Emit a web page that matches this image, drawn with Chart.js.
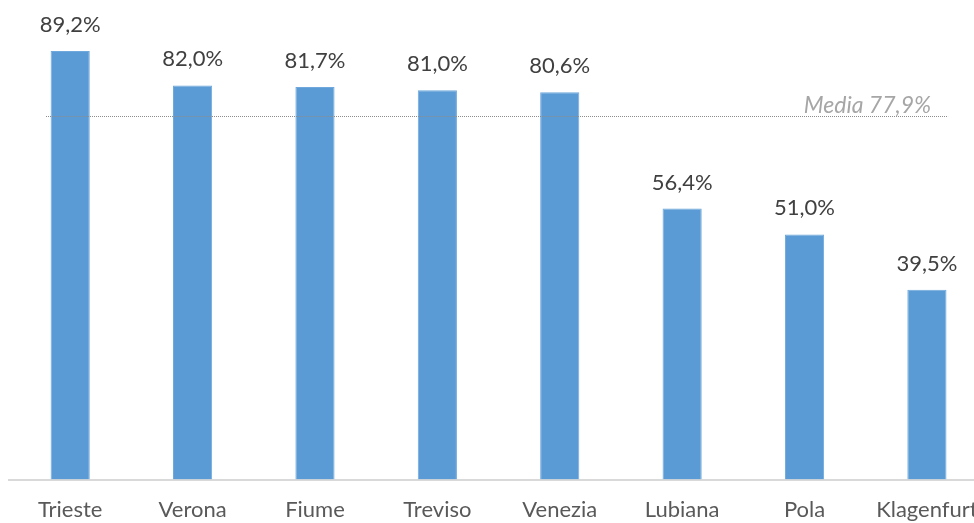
<!DOCTYPE html>
<html>
<head>
<meta charset="utf-8">
<script src="https://cdn.jsdelivr.net/npm/chart.js@4.4.0/dist/chart.umd.min.js"></script>
<style>
  html, body { margin: 0; padding: 0; background: #fff; overflow: hidden; }
  #wrap { width: 995px; height: 540px; position: relative; }
</style>
</head>
<body>
<div id="wrap"><canvas id="myChart"></canvas></div>
<script>
const cities = ['Trieste', 'Verona', 'Fiume', 'Treviso', 'Venezia', 'Lubiana', 'Pola', 'Klagenfurt'];
const shares = [89.2, 82.0, 81.7, 81.0, 80.6, 56.4, 51.0, 39.5];
const mediaText = 'Media 77,9%';
// the dotted line sits a bit lower than 77.9 in the picture, so use where it is drawn
const mediaLevel = 75.6;

function fmt(v) {
    return v.toFixed(1).replace('.', ',') + '%';
}

const barLabels = {
    id: 'barLabels',
    afterDatasetsDraw(chart) {
        const ctx = chart.ctx;
        const meta = chart.getDatasetMeta(0);
        ctx.save();
        ctx.font = '22px Lato';
        ctx.fillStyle = '#404040';
        ctx.textAlign = 'center';
        ctx.textBaseline = 'alphabetic';
        meta.data.forEach((bar, i) => {
            ctx.fillText(fmt(shares[i]), bar.x, bar.y - 19);
        });
        ctx.restore();
    }
};

const mediaLine = {
    id: 'mediaLine',
    afterDatasetsDraw(chart) {
        const ctx = chart.ctx;
        const area = chart.chartArea;
        const y = Math.round(chart.scales.y.getPixelForValue(mediaLevel)) + 0.5;
        ctx.save();
        ctx.strokeStyle = '#8c8c8c';
        ctx.lineWidth = 1;
        ctx.setLineDash([1, 1]);
        ctx.beginPath();
        ctx.moveTo(area.left + 37, y);
        ctx.lineTo(area.right - 40, y);
        ctx.stroke();
        ctx.setLineDash([]);
        ctx.font = 'italic 23px Lato';
        ctx.fillStyle = '#a6a6a6';
        ctx.textAlign = 'right';
        ctx.textBaseline = 'alphabetic';
        ctx.fillText(mediaText, area.right - 57, y - 4);
        ctx.restore();
    }
};

const ctx = document.getElementById('myChart');

new Chart(ctx, {
    type: 'bar',
    data: {
        labels: cities,
        datasets: [{
            data: shares,
            backgroundColor: '#5b9bd5',
            borderColor: '#6ea8dc',
            borderWidth: 1,
            categoryPercentage: 1,
            barPercentage: 0.32
        }]
    },
    options: {
        responsive: true,
        maintainAspectRatio: false,
        animation: false,
        layout: {
            padding: { top: 23, left: 9, right: 5, bottom: 0 }
        },
        plugins: {
            legend: { display: false },
            tooltip: { enabled: false }
        },
        scales: {
            x: {
                grid: { display: false, drawTicks: false },
                border: { display: true, color: '#d9d9d9', width: 2 },
                ticks: {
                    color: '#595959',
                    font: { family: 'Lato', size: 22 },
                    padding: 17,
                    maxRotation: 0
                }
            },
            y: {
                display: false,
                min: 0,
                max: 95
            }
        }
    },
    plugins: [barLabels, mediaLine]
});
</script>
</body>
</html>
